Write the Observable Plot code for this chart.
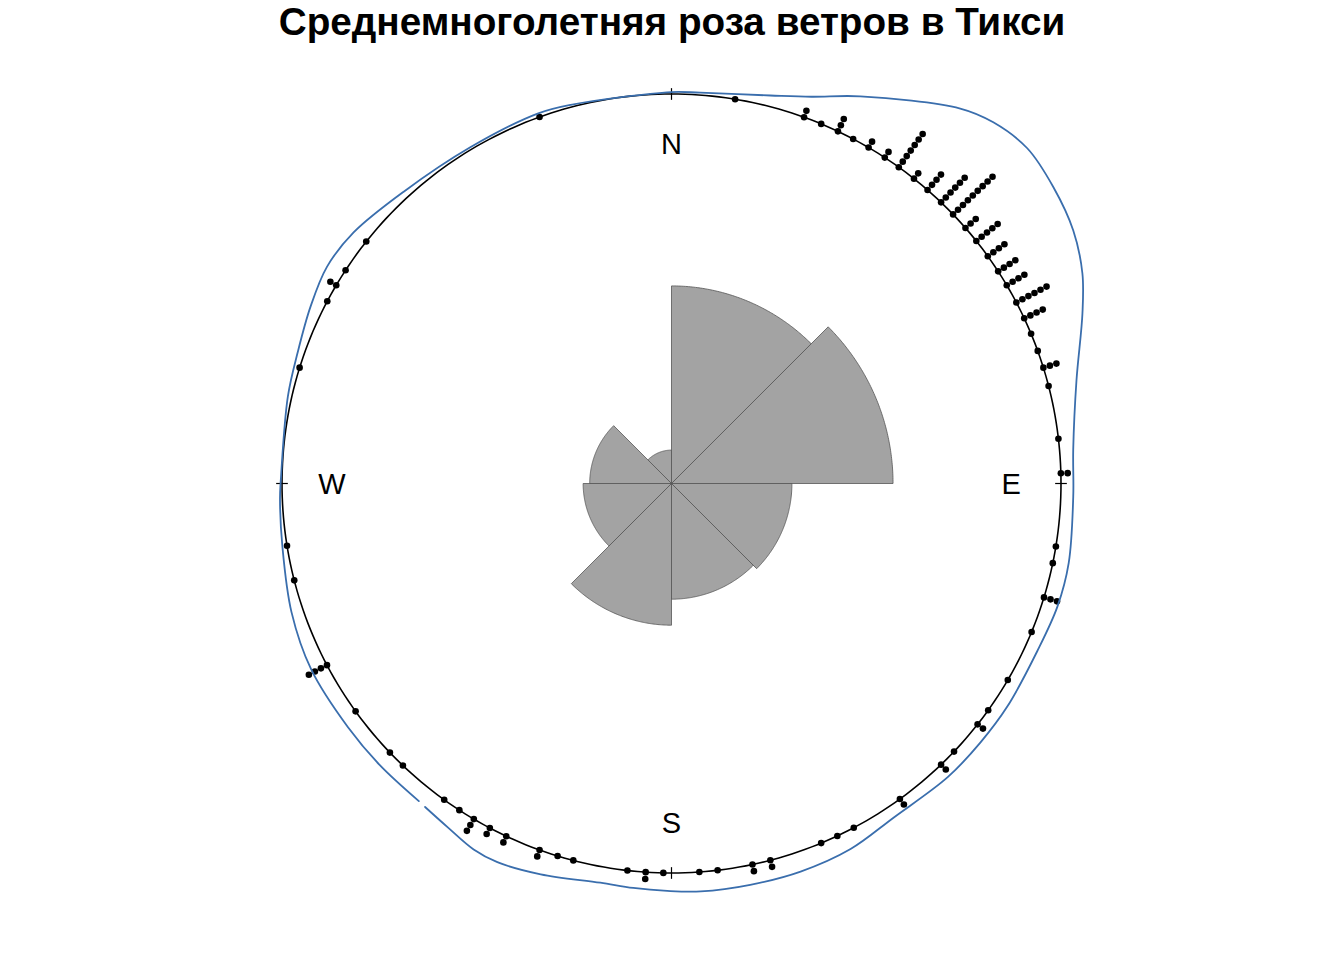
<!DOCTYPE html>
<html><head><meta charset="utf-8">
<script src="https://cdn.jsdelivr.net/npm/d3@7"></script>
<script src="https://cdn.jsdelivr.net/npm/@observablehq/plot@0.6"></script>
<style>
body{margin:0;background:#fff;}
#title{height:50px;line-height:50px;text-align:center;font:bold 38.7px "Liberation Sans",Arial,sans-serif;color:#000;white-space:nowrap;}
</style></head><body>
<div id="title">Среднемноголетняя роза ветров в Тикси</div>
<div id="chart"></div>
<script>
// Observations (bearing in degrees clockwise from north) and stack heights
const pointBearings = [9.4,19.9,22.6,25.3,27.8,30.4,33.2,35.7,38.5,41.1,43.8,46.3,49.0,51.5,54.3,57.0,59.4,62.3,64.9,67.4,70.1,72.7,75.5,83.4,88.5,
  99.3,101.8,107.0,112.4,120.3,125.6,128.2,133.5,136.2,144.1,152.1,154.8,157.4,165.3,168.0,173.2,175.9,
  181.2,183.8,186.5,194.6,197.0,199.8,205.1,207.8,210.5,213.0,215.7,223.6,226.3,234.2,242.2,255.6,260.8,
  287.3,297.9,300.6,303.2,308.4,340.2];
const pointCounts = [1,2,1,3,1,2,2,7,2,4,6,9,3,5,4,4,4,6,4,1,1,3,1,1,2,
  1,1,3,1,1,1,2,1,2,2,1,1,1,2,2,1,1,
  1,2,1,1,1,2,2,2,3,1,1,1,1,1,4,1,1,
  1,1,2,1,1,1];

// Rose diagram: 8 sectors of 45 degrees
const roseStart = [0,45,90,135,180,225,270,315];
const roseCounts = [35,44,13,12,18,7,6,1];
const totalObs = 136;

// Kernel density (drawn outward from the unit circle), in drawing order
const densityBearings = [218.5,226,233,242.7,251.3,260.8,267.7,270.6,282.8,289.3,296.1,302.2,308.3,317.4,329.1,340.1,345.1,
  0,4.2,14.3,19.9,26,37.6,41.7,46.7,52.2,57.8,62.9,67.5,75.7,85.2,91.9,101.3,107.7,114.6,123.6,130,136.7,146.4,153.9,161.6,168.9,175.9,180.6,185.4,190.1,198.5,204.7,208.4,213.1,217.3];
const densityValues = [0.042,0.041,0.040,0.041,0.030,0.012,0.006,0.003,0.010,0.017,0.032,0.045,0.040,0.017,0.006,0.010,0.006,
  0.005,0.006,0.028,0.056,0.106,0.215,0.242,0.255,0.241,0.219,0.185,0.142,0.073,0.035,0.032,0.040,0.040,0.033,0.035,0.035,0.035,0.030,0.045,0.050,0.050,0.050,0.046,0.043,0.041,0.058,0.070,0.068,0.053,0.044];

const compassLabels = ["N","E","S","W"];
const compassBearings = [0,90,180,270];

// ---- geometry helpers ----
const rad = d => d*Math.PI/180;
const px = (b,r) => r*Math.sin(rad(b));
const py = (b,r) => r*Math.cos(rad(b));

const circle = d3.range(0,361,1).map(b=>({x:px(b,1),y:py(b,1)}));

const rose = [];
roseStart.forEach((s,i)=>{
  const r = Math.sqrt(roseCounts[i]/totalObs);
  rose.push({k:i,x:0,y:0});
  for(let b=s;b<=s+45;b+=0.5) rose.push({k:i,x:px(b,r),y:py(b,r)});
  rose.push({k:i,x:0,y:0});
});

const sep = 0.0175;
const dots = [];
pointBearings.forEach((b,i)=>{
  for(let k=0;k<pointCounts[i];k++) dots.push({x:px(b,1+k*sep),y:py(b,1+k*sep)});
});

const dens = densityBearings.map((b,i)=>({x:px(b,1+densityValues[i]),y:py(b,1+densityValues[i])}));

const ticks = compassBearings.map(b=>({x1:px(b,0.985),y1:py(b,0.985),x2:px(b,1.015),y2:py(b,1.015)}));
const labels = compassBearings.map((b,i)=>({x:px(b,0.872),y:py(b,0.872),t:compassLabels[i]}));

const W=1344,H=910,S=389.5,cx=671,cy=433;
const chart = Plot.plot({
  width:W,height:H,margin:0,
  style:{background:"#fff",fontFamily:"'Liberation Sans',Arial,sans-serif"},
  x:{domain:[-cx/S,(W-cx)/S],range:[0,W],axis:null},
  y:{domain:[-(H-cy)/S,cy/S],range:[H,0],axis:null},
  marks:[
    Plot.line(rose,{x:"x",y:"y",z:"k",fill:"#a3a3a3",stroke:"#555",strokeWidth:0.8,curve:"linear"}),
    Plot.line(circle,{x:"x",y:"y",stroke:"#000",strokeWidth:1.6}),
    Plot.link(ticks,{x1:"x1",y1:"y1",x2:"x2",y2:"y2",stroke:"#000",strokeWidth:1.2}),
    Plot.text(labels,{x:"x",y:"y",text:"t",fontSize:29,fill:"#000",dy:1}),
    Plot.dot(dots,{x:"x",y:"y",r:3.3,fill:"#000",stroke:"none"}),
    Plot.line(dens,{x:"x",y:"y",stroke:"#3a6ead",strokeWidth:1.8,curve:"catmull-rom"})
  ]
});
document.getElementById("chart").appendChild(chart);
</script>
</body></html>
